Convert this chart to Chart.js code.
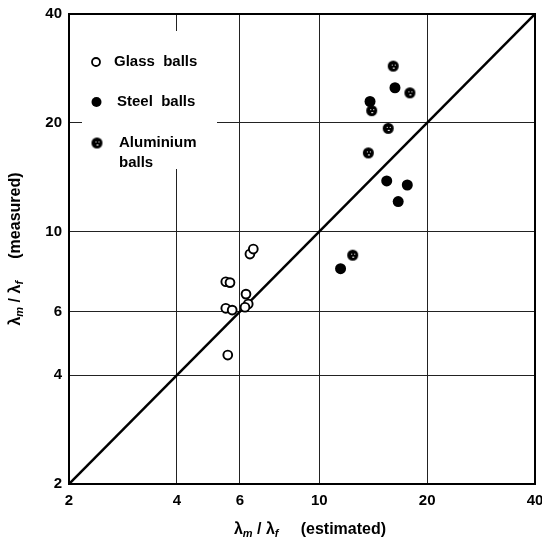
<!DOCTYPE html>
<html>
<head>
<meta charset="utf-8">
<script src="https://cdn.jsdelivr.net/npm/chart.js@4.4.1/dist/chart.umd.min.js"></script>
<style>
  html, body { margin: 0; padding: 0; background: #fff; }
  #wrap { width: 542px; height: 545px; }
</style>
</head>
<body>
<div id="wrap"><canvas id="chart"></canvas></div>
<script>
// tick values used on both log axes
const tickValues = [2, 4, 6, 10, 20, 40];

// glass balls (open circles)
const glassX = [5.48, 5.63, 5.48, 5.71, 5.55, 6.24, 6.33, 6.20, 6.40, 6.54];
const glassY = [7.26, 7.22, 6.13, 6.06, 4.55, 6.71, 6.30, 6.17, 8.66, 8.94];

// steel balls (filled)
const steelX = [11.46, 13.85, 15.42, 16.26, 16.6, 17.6];
const steelY = [7.89, 22.9, 13.8, 25.0, 12.1, 13.45];

// aluminium balls
const aluX = [12.39, 13.7, 14.0, 15.57, 16.08, 17.9];
const aluY = [8.60, 16.5, 21.6, 19.3, 28.7, 24.2];

// line of equality
const lineX = [2, 40];
const lineY = [2, 40];

function toPoints(xs, ys) {
    return xs.map((x, i) => ({ x: x, y: ys[i] }));
}

// marker for aluminium: black disc with small white specks
function aluMarker(r) {
    let c = document.createElement('canvas');
    let s = Math.ceil(r * 2 + 2);
    c.width = s; c.height = s;
    let g = c.getContext('2d');
    g.fillStyle = '#000';
    g.beginPath();
    g.arc(s / 2, s / 2, r, 0, Math.PI * 2);
    g.fill();
    g.fillStyle = '#fff';
    g.fillRect(Math.round(s / 2 - 2), Math.round(s / 2 - 2), 1, 1);
    g.fillRect(Math.round(s / 2 + 1), Math.round(s / 2 - 2), 1, 1);
    g.fillRect(Math.round(s / 2 - 1), Math.round(s / 2 + 1), 2, 1);
    return c;
}
const aluImg = aluMarker(5.5);

const tickFont = { family: 'Liberation Sans, Arial, sans-serif', size: 15, weight: 'bold' };

// draw "λm/λf  (text)" with subscripts
function drawLambdaTitle(ctx, text, cx, cy) {
    let big = 'bold 16px Liberation Sans, Arial, sans-serif';
    let sub = 'italic bold 11px Liberation Sans, Arial, sans-serif';
    let parts = [
        { t: 'λ', f: big, dy: 0 },
        { t: 'm', f: sub, dy: 4 },
        { t: ' / ', f: big, dy: 0 },
        { t: 'λ', f: big, dy: 0 },
        { t: 'f', f: sub, dy: 4 },
        { t: '     ' + text, f: big, dy: 0 }
    ];
    let total = 0;
    parts.forEach(p => { ctx.font = p.f; p.w = ctx.measureText(p.t).width; total += p.w; });
    let x = cx - total / 2;
    ctx.textBaseline = 'middle';
    ctx.fillStyle = '#000';
    parts.forEach(p => {
        ctx.font = p.f;
        ctx.fillText(p.t, x, cy + p.dy);
        x += p.w;
    });
}

const overlay = {
    id: 'overlay',
    beforeDatasetsDraw(chart) {
        let ctx = chart.ctx;
        ctx.save();
        // legend box covers the grid
        ctx.fillStyle = '#fff';
        ctx.fillRect(82, 31, 135, 138);
        ctx.fillStyle = '#000';
        ctx.strokeStyle = '#000';
        ctx.lineWidth = 1.8;
        ctx.beginPath();
        ctx.arc(96, 62, 4, 0, Math.PI * 2);
        ctx.stroke();
        ctx.beginPath();
        ctx.arc(96.5, 102, 5, 0, Math.PI * 2);
        ctx.fill();
        ctx.drawImage(aluImg, 97 - aluImg.width / 2, 143 - aluImg.height / 2);
        ctx.font = 'bold 15px Liberation Sans, Arial, sans-serif';
        ctx.textBaseline = 'middle';
        ctx.fillText('Glass  balls', 114, 62);
        ctx.fillText('Steel  balls', 117, 102);
        ctx.fillText('Aluminium', 119, 143);
        ctx.fillText('balls', 119, 163);
        ctx.restore();
    },
    afterDraw(chart) {
        let ctx = chart.ctx;
        let a = chart.chartArea;
        ctx.save();
        // frame
        ctx.strokeStyle = '#000';
        ctx.lineWidth = 2;
        ctx.strokeRect(a.left, a.top, a.right - a.left, a.bottom - a.top);
        // axis titles
        drawLambdaTitle(ctx, '(estimated)', 310, 530);
        ctx.translate(16, 249);
        ctx.rotate(-Math.PI / 2);
        drawLambdaTitle(ctx, '(measured)', 0, 0);
        ctx.restore();
    }
};

let canvas = document.getElementById('chart');
let chart = new Chart(canvas, {
    type: 'scatter',
    data: {
        datasets: [
            {
                label: 'Glass balls',
                data: toPoints(glassX, glassY),
                pointStyle: 'circle',
                pointRadius: 4.4,
                borderColor: '#000',
                backgroundColor: '#fff',
                borderWidth: 1.9
            },
            {
                label: 'Steel balls',
                data: toPoints(steelX, steelY),
                pointStyle: 'circle',
                pointRadius: 5.5,
                borderColor: '#000',
                backgroundColor: '#000',
                borderWidth: 0
            },
            {
                label: 'Aluminium balls',
                data: toPoints(aluX, aluY),
                pointStyle: aluImg
            },
            {
                type: 'line',
                label: 'equality',
                data: toPoints(lineX, lineY),
                borderColor: '#000',
                borderWidth: 2.5,
                pointRadius: 0,
                fill: false
            }
        ]
    },
    options: {
        responsive: true,
        maintainAspectRatio: false,
        animation: false,
        layout: { padding: { top: 14, right: 7, left: 0, bottom: 0 } },
        plugins: {
            legend: { display: false },
            tooltip: { enabled: false }
        },
        scales: {
            x: {
                type: 'logarithmic',
                min: 2,
                max: 40,
                afterBuildTicks: s => { s.ticks = tickValues.map(v => ({ value: v })); },
                afterFit: s => { s.height = 61; s.paddingLeft = 0; s.paddingRight = 0; },
                grid: { color: '#222', lineWidth: 1, drawTicks: false },
                border: { display: false },
                ticks: {
                    color: '#000',
                    font: tickFont,
                    padding: 8,
                    maxRotation: 0,
                    autoSkip: false,
                    callback: v => String(v)
                }
            },
            y: {
                type: 'logarithmic',
                min: 2,
                max: 40,
                afterBuildTicks: s => { s.ticks = tickValues.map(v => ({ value: v })); },
                afterFit: s => { s.width = 69; s.paddingTop = 0; s.paddingBottom = 0; },
                grid: { color: '#222', lineWidth: 1, drawTicks: false },
                border: { display: false },
                ticks: {
                    color: '#000',
                    font: tickFont,
                    padding: 7,
                    autoSkip: false,
                    callback: v => String(v)
                }
            }
        }
    },
    plugins: [overlay]
});
</script>
</body>
</html>
